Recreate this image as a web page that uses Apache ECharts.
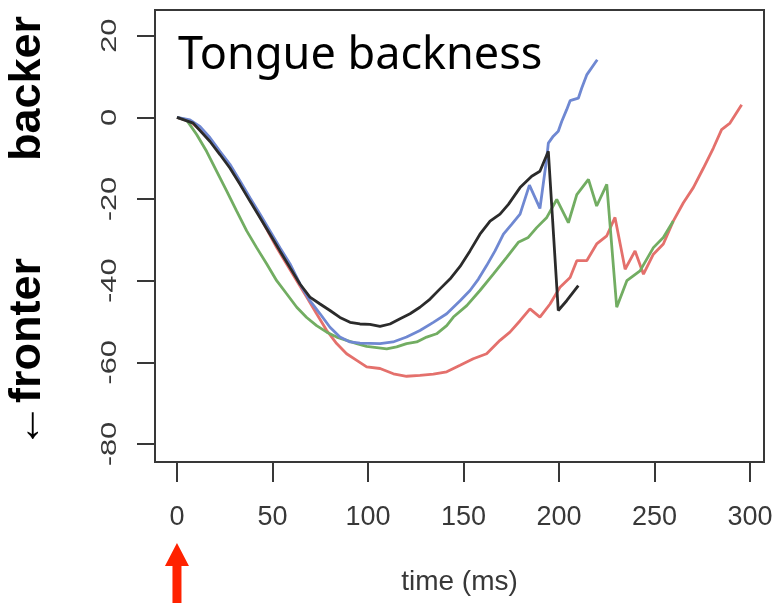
<!DOCTYPE html>
<html>
<head>
<meta charset="utf-8">
<script src="https://cdn.jsdelivr.net/npm/echarts@6/dist/echarts.min.js"></script>
<style>
  html, body { margin: 0; padding: 0; background: #fff; }
  #chart { width: 776px; height: 603px; }
</style>
</head>
<body>
<div id="chart"></div>
<script>
// tick values for both axes
const xTicks = [0, 50, 100, 150, 200, 250, 300];
const yTicks = [-80, -60, -40, -20, 0, 20];

// [time (ms), backness]
const blue = [[0,0],[6.8,-0.6],[12,-2.2],[17.3,-5],[22.5,-8.3],[27.7,-11.5],[33,-15.6],[38.2,-19.7],[43.5,-23.7],[48.7,-27.8],[53.9,-31.9],[59.2,-35.9],[64.4,-40.8],[69.6,-44.9],[74.9,-48.1],[80.1,-51.4],[85.3,-53.8],[90.6,-55],[95.8,-55.3],[106.3,-55.4],[113.1,-55],[120.2,-53.8],[127.2,-52.2],[134.2,-50.2],[141.2,-48.1],[148.2,-44.9],[153.4,-42.4],[157.8,-39.6],[162.1,-36.3],[166.5,-32.7],[170.9,-28.6],[175.2,-26.2],[179.6,-23.7],[184.5,-16.6],[190,-22.3],[193.6,-9.9],[194.4,-6.3],[197,-4.6],[199.6,-3.4],[201.4,-1],[204,1.9],[205.8,4.1],[210.1,4.7],[211.9,7.2],[214.5,10.4],[220,14.1]];
const black = [[0,0],[8.5,-1.4],[17.3,-5.9],[22.5,-9.1],[27.7,-12.4],[33,-16.4],[38.2,-20.5],[43.5,-24.6],[48.7,-28.6],[53.9,-32.7],[59.2,-36.8],[64.4,-40.8],[69.6,-44],[74.9,-45.7],[80.1,-47.3],[85.3,-49],[90.6,-50.2],[95.8,-50.6],[101,-50.7],[106.3,-51.2],[111.5,-50.6],[116.8,-49.3],[122,-48.1],[127.2,-46.5],[132.5,-44.5],[137.7,-42],[142.9,-39.6],[148.2,-36.5],[153.4,-32.7],[158.6,-28.6],[163.9,-25.4],[169.1,-23.7],[173.5,-21.3],[179.6,-17.2],[185.7,-14.4],[190,-13.2],[194.4,-8.3],[199.6,-47.3],[204,-44.9],[210.1,-41.2]];
const green = [[0,0],[5,-0.6],[10.3,-4.2],[15.5,-8.3],[20.8,-13.2],[26,-18],[31.2,-22.9],[36.5,-27.8],[41.7,-31.9],[47,-35.9],[52.2,-40],[57.4,-43.2],[62.7,-46.5],[67.9,-49],[73.1,-51],[78.4,-52.6],[83.6,-53.8],[88.8,-54.6],[94.1,-55.4],[99.3,-56.1],[104.6,-56.4],[109.8,-56.7],[115,-56.2],[120.2,-55.4],[125.5,-55],[130.7,-53.8],[135.9,-53],[141.2,-51],[144.7,-48.9],[151.7,-46.1],[158.6,-42.4],[165.6,-38.4],[172.6,-34.3],[178.7,-30.6],[183.9,-29.4],[188.3,-27],[193.6,-24.5],[198.8,-20.1],[204.9,-25.8],[209.3,-18.9],[215.4,-15.2],[219.7,-21.7],[225,-16.4],[230.2,-46.5],[235.5,-40],[242.4,-37.6],[249.4,-31.9],[254.6,-29.4],[259.8,-25.4]];
const red = [[0,0],[6.8,-1],[12,-3],[17.3,-5.4],[20.8,-7.5],[26,-10.7],[31.2,-14.8],[36.5,-18.9],[41.7,-22.9],[47,-27.4],[52.2,-31.9],[57.4,-35.9],[62.7,-40],[67.9,-44],[73.1,-48.1],[78.4,-52.2],[83.6,-55.4],[88.8,-57.9],[94.1,-59.5],[99.3,-61.1],[106.3,-61.5],[113.3,-62.8],[120.2,-63.4],[127.2,-63.2],[134.2,-62.9],[141.2,-62.3],[148.2,-60.7],[155.1,-59.1],[162.1,-57.9],[169.1,-54.6],[174.3,-52.6],[179.6,-49.8],[184.8,-46.9],[190,-48.9],[195.3,-45.7],[200.5,-41.6],[205.8,-39.2],[209.3,-35.1],[214.5,-35.1],[219.7,-31],[225,-29],[229.3,-24.5],[234.6,-37.2],[239.8,-32.7],[244.2,-38.4],[249.4,-33.5],[254.6,-31],[259.8,-25.4],[265.1,-20.9],[270.3,-17.2],[275.6,-12.4],[280.8,-7.5],[285.1,-3],[289.5,-1.4],[295.6,3.1]];

const chart = echarts.init(document.getElementById('chart'));
const axisGrey = '#383838';

const line = (data, color, z) => ({
    type: 'line',
    data: data,
    showSymbol: false,
    silent: true,
    z: z,
    lineStyle: { color: color, width: 2.8 }
});

chart.setOption({
    animation: false,
    title: {
        text: 'Tongue backness',
        left: 173,
        top: 29,
        textStyle: { fontFamily: 'Noto Sans', fontSize: 45, fontWeight: 'normal', color: '#000' }
    },
    grid: {
        left: 155,
        right: 12,
        top: 10,
        bottom: 141,
        show: true,
        borderColor: axisGrey,
        borderWidth: 2
    },
    xAxis: {
        type: 'value',
        min: -11.5,
        max: 307.3,
        name: 'time (ms)',
        nameLocation: 'middle',
        nameGap: 106,
        nameTextStyle: { fontFamily: 'Liberation Sans', fontSize: 28, color: axisGrey },
        splitLine: { show: false },
        axisLine: { show: false, onZero: false },
        axisTick: { show: true, length: 20, customValues: xTicks, lineStyle: { color: axisGrey, width: 2 } },
        axisLabel: { customValues: xTicks, margin: 42, fontFamily: 'Liberation Sans', fontSize: 27, color: axisGrey }
    },
    yAxis: {
        type: 'value',
        min: -84.4,
        max: 26.3,
        splitLine: { show: false },
        axisLine: { show: false, onZero: false },
        axisTick: { show: true, length: 18, customValues: yTicks, lineStyle: { color: axisGrey, width: 2 } },
        // labels are drawn below as stretched rotated text
        axisLabel: { show: false }
    },
    series: [
        line(red, '#e4706c', 3),
        line(green, '#72ad62', 3),
        line(blue, '#6f88d2', 3),
        line(black, '#2b2b2b', 4)
    ]
});

// y tick labels (rotated, stretched like the original), side labels and the red onset arrow
const yLabels = yTicks.map(v => ({
    type: 'text',
    x: 110,
    y: chart.convertToPixel({ gridIndex: 0 }, [0, v])[1],
    rotation: Math.PI / 2,
    scaleX: 1.4,
    silent: true,
    style: { text: String(v), fontFamily: 'Liberation Sans', fontSize: 22, fill: axisGrey, align: 'center', verticalAlign: 'middle' }
}));
const x0 = chart.convertToPixel({ gridIndex: 0 }, [0, 0])[0];
chart.setOption({
    graphic: yLabels.concat([
        {
            type: 'text', x: 28, y: 161, rotation: Math.PI / 2,
            style: { text: 'backer \u2192', fontFamily: 'Liberation Sans', fontWeight: 'bold', fontSize: 45, fill: '#000', align: 'left', verticalAlign: 'middle' }
        },
        {
            type: 'text', x: 28, y: 448, rotation: Math.PI / 2,
            style: { text: '\u2190fronter', fontFamily: 'Liberation Sans', fontWeight: 'bold', fontSize: 45, fill: '#000', align: 'left', verticalAlign: 'middle' }
        },
        {
            type: 'polygon', x: x0, y: 0,
            shape: { points: [[0, 543], [12, 566], [4.5, 566], [4.5, 603], [-4.5, 603], [-4.5, 566], [-12, 566]] },
            style: { fill: '#ff2200' }
        }
    ])
});
</script>
</body>
</html>
